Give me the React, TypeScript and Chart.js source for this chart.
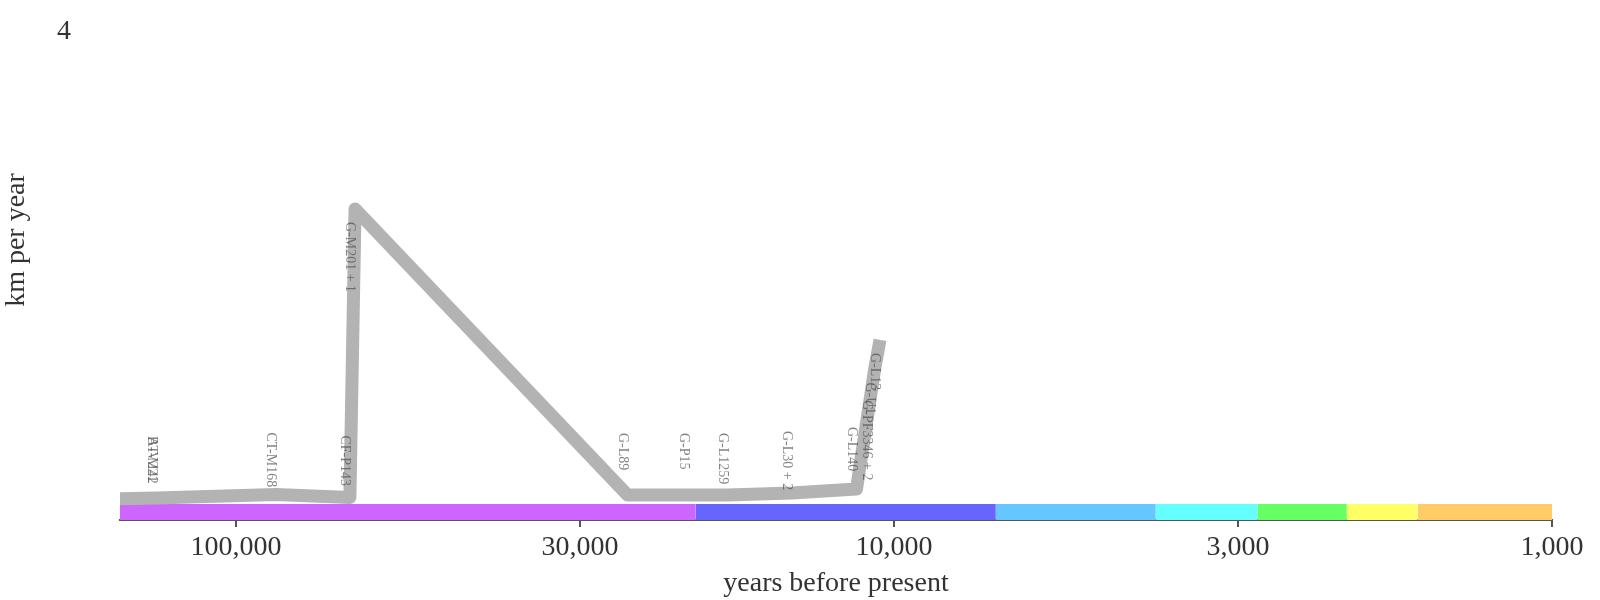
import React, { useEffect, useRef } from 'react';
import { Chart, registerables, Plugin } from 'chart.js';

Chart.register(...registerables);

// lineage path: names, age (years before present), speed (km per year)
const lineageNames = [
  'A-V221', 'BT-M42', 'CT-M168', 'CF-P143', 'G-M201 + 1', 'G-L89', 'G-P15',
  'G-L1259', 'G-L30 + 2', 'G-L140', 'G-PF3346 + 2', 'G-U1', 'G-L13',
];
const lineageYears = [150000, 132000, 87000, 67100, 65900, 25400, 20500, 17900, 14300, 11400, 10800, 10700, 10500];
const lineageSpeeds = [0.045, 0.05, 0.08, 0.055, 2.5, 0.076, 0.076, 0.076, 0.093, 0.127, 0.99, 1.14, 1.39];

// coloured period band under the line
const periodStarts = [150000, 20000, 7000, 4000, 2800, 2050, 1600];
const periodEnds = [20000, 7000, 4000, 2800, 2050, 1600, 1000];
const periodColors = ['#cc66ff', '#6666ff', '#66c6ff', '#66ffff', '#66ff66', '#ffff66', '#ffcc66'];

const xTicks = [100000, 30000, 10000, 3000, 1000];
const yTicks = [4];

const X_MIN = 1000;
const X_MAX = 150000;
const Y_MIN = -0.136;
const Y_MAX = 4;

const FONT = "'Liberation Serif', 'Times New Roman', serif";
const TEXT = '#333';

const labelPlugin: Plugin = {
  id: 'lineageLabels',
  afterDatasetsDraw(chart) {
    const { ctx, chartArea } = chart;
    const meta = chart.getDatasetMeta(0);
    ctx.save();
    ctx.font = `14px ${FONT}`;
    ctx.fillStyle = 'rgba(80, 80, 80, 0.7)';
    ctx.textAlign = 'left';
    ctx.textBaseline = 'middle';
    meta.data.forEach((pt: any, i: number) => {
      const x = Math.max(pt.x - 5, chartArea.left + 32);
      const top = lineageSpeeds[i] < 0.5 ? pt.y - 62 : pt.y + 13;
      ctx.save();
      ctx.translate(x, top);
      ctx.rotate(Math.PI / 2);
      ctx.fillText(lineageNames[i], 0, 0);
      ctx.restore();
    });
    // y axis title
    ctx.font = `28px ${FONT}`;
    ctx.fillStyle = TEXT;
    ctx.textAlign = 'center';
    ctx.translate(17, 240);
    ctx.rotate(-Math.PI / 2);
    ctx.fillText('km per year', 0, 0);
    ctx.restore();
  },
};

export default function App() {
  const canvasRef = useRef<HTMLCanvasElement>(null);

  useEffect(() => {
    if (!canvasRef.current) return;

    const lineData = lineageYears.map((yr, i) => ({ x: yr, y: lineageSpeeds[i] }));

    const bandSets = periodStarts.map((start, i) => ({
      type: 'line' as const,
      data: [
        { x: start, y: 0 },
        { x: periodEnds[i], y: 0 },
      ],
      borderWidth: 0,
      pointRadius: 0,
      backgroundColor: periodColors[i],
      fill: 'start',
    }));

    const chart = new Chart(canvasRef.current, {
      type: 'line',
      data: {
        datasets: [
          {
            data: lineData,
            borderColor: '#b3b3b3',
            borderWidth: 13,
            borderJoinStyle: 'round',
            borderCapStyle: 'butt',
            pointRadius: 0,
            tension: 0,
            fill: false,
          },
          ...bandSets,
        ] as any,
      },
      options: {
        animation: false,
        responsive: true,
        maintainAspectRatio: false,
        layout: { padding: { top: 32, right: 48, left: 0, bottom: 0 } },
        plugins: {
          legend: { display: false },
          tooltip: { enabled: false },
        },
        scales: {
          x: {
            type: 'logarithmic',
            reverse: true,
            min: X_MIN,
            max: X_MAX,
            bounds: 'data',
            afterBuildTicks: (scale) => {
              scale.ticks = xTicks.map((v) => ({ value: v }));
            },
            afterFit: (scale) => {
              scale.height = 80;
            },
            grid: {
              display: true,
              drawOnChartArea: false,
              drawTicks: true,
              tickLength: 7,
              color: '#555',
              lineWidth: 2,
            },
            border: { display: true, color: '#555', width: 2 },
            ticks: {
              autoSkip: false,
              maxRotation: 0,
              padding: 4,
              color: TEXT,
              font: { family: FONT, size: 28 },
              callback: (v) => Number(v).toLocaleString('en-US'),
            },
            title: {
              display: true,
              text: 'years before present',
              color: TEXT,
              font: { family: FONT, size: 28 },
              padding: { top: 0, bottom: 0 },
            },
          },
          y: {
            type: 'linear',
            min: Y_MIN,
            max: Y_MAX,
            afterBuildTicks: (scale) => {
              scale.ticks = yTicks.map((v) => ({ value: v }));
            },
            afterFit: (scale: any) => {
              scale.width = 120;
              // the large label padding should not push the plot area down
              scale.paddingTop = 17;
              scale.paddingBottom = 0;
            },
            grid: { display: false, drawTicks: false },
            border: { display: false },
            ticks: {
              padding: 49,
              color: TEXT,
              font: { family: FONT, size: 28 },
            },
          },
        },
      },
      plugins: [labelPlugin],
    });

    return () => chart.destroy();
  }, []);

  return (
    <div style={{ position: 'absolute', left: 0, top: 0, width: 1600, height: 600 }}>
      <canvas ref={canvasRef} />
    </div>
  );
}
